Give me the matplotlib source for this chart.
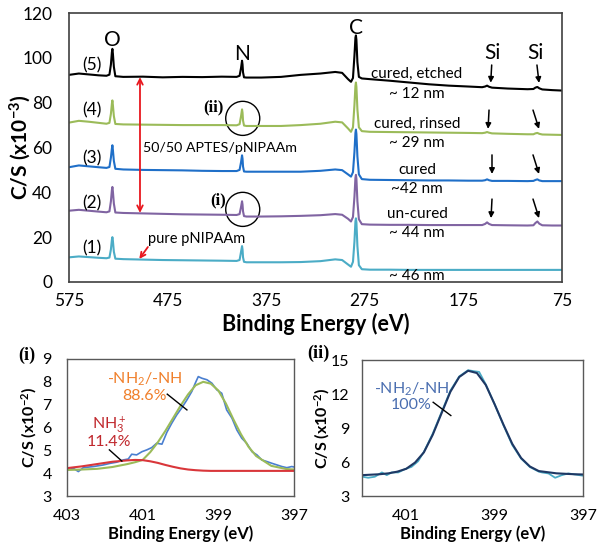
import matplotlib
matplotlib.use("Agg")
import matplotlib.pyplot as plt
from matplotlib.patches import Ellipse

plt.rcParams['font.family'] = ['Lato', 'DejaVu Sans']
plt.rcParams['mathtext.fontset'] = 'custom'
plt.rcParams['mathtext.rm'] = 'Lato'
plt.rcParams['mathtext.it'] = 'Lato:italic'
plt.rcParams['mathtext.bf'] = 'Lato:bold'

# ---- survey spectra (binding energy in eV, counts x1e-3) ----
energy = [575, 565, 555, 545, 537, 534, 532.5, 531.5, 531, 530.5, 529.5, 528,
          520, 500, 480, 460, 440, 420, 405, 402, 400.5, 399.5, 399, 398.5,
          397.5, 395, 380, 360, 340, 320, 305, 298, 292, 289, 287, 285.5,
          284.5, 284, 283.5, 282.5, 281, 278, 270, 250, 230, 210, 190, 170,
          156, 153, 151, 149, 146, 130, 110, 104, 102, 100, 98, 95, 85, 75]

s5_etched = [92.4, 93.0, 92.6, 92.2, 92.0, 92.5, 97.0, 102.5, 104.0, 102.0, 96.0, 91.8,
             91.5, 91.6, 91.3, 91.5, 91.4, 91.6, 91.5, 92.0, 95.5, 98.7, 97.0, 93.5,
             91.3, 91.2, 91.2, 91.5, 92.4, 93.0, 93.7, 93.3, 90.5, 89.3, 91.0, 101.0,
             109.0, 110.0, 108.0, 98.0, 91.5, 90.8, 90.5, 89.8, 89.0, 88.2, 87.6, 87.2,
             86.9, 87.2, 87.6, 87.1, 86.7, 86.3, 86.0, 86.1, 86.7, 87.0, 86.4, 85.9, 85.6, 85.4]

s4_rinsed = [71.1, 71.9, 71.5, 71.0, 70.6, 71.0, 75.0, 79.5, 81.0, 79.0, 74.0, 70.5,
             70.3, 70.2, 70.1, 70.0, 70.0, 70.0, 69.9, 70.4, 74.0, 77.0, 75.5, 72.0,
             69.8, 69.6, 69.6, 69.6, 70.0, 70.6, 71.5, 71.2, 68.5, 67.0, 69.0, 79.0,
             87.5, 89.0, 87.0, 77.0, 69.0, 67.3, 67.0, 66.9, 66.8, 66.7, 66.6, 66.5,
             66.4, 66.6, 66.9, 66.6, 66.3, 66.1, 65.9, 65.9, 66.3, 66.5, 66.1, 65.8, 65.7, 65.6]

s3_cured = [51.2, 52.0, 51.6, 51.2, 50.9, 51.3, 55.5, 59.5, 61.0, 59.0, 54.0, 50.5,
            50.2, 50.0, 49.9, 49.8, 49.6, 49.5, 49.5, 50.0, 53.5, 56.5, 55.0, 51.5,
            49.3, 49.2, 49.2, 49.2, 49.2, 49.6, 50.2, 49.9, 48.0, 47.0, 49.0, 58.0,
            66.5, 68.0, 66.0, 56.0, 48.0, 45.9, 45.6, 45.5, 45.4, 45.3, 45.3, 45.2,
            45.2, 45.4, 45.8, 45.4, 45.1, 45.1, 45.0, 45.1, 45.5, 45.8, 45.3, 45.0, 45.0, 45.0]

s2_uncured = [31.8, 32.2, 31.8, 31.4, 31.1, 31.5, 36.0, 41.0, 42.4, 40.5, 35.0, 31.0,
              30.8, 30.6, 30.4, 30.2, 30.1, 30.0, 29.9, 30.3, 33.5, 36.0, 34.5, 31.5,
              29.4, 29.2, 29.2, 29.3, 29.5, 29.8, 30.3, 30.0, 28.2, 27.0, 29.0, 38.0,
              46.5, 47.8, 46.0, 36.0, 28.0, 25.8, 25.6, 25.5, 25.5, 25.4, 25.4, 25.4,
              25.4, 25.9, 26.6, 25.9, 25.4, 25.3, 25.2, 25.3, 26.3, 27.0, 26.0, 25.3, 25.2, 25.2]

s1_pure = [11.0, 11.4, 11.1, 10.8, 10.6, 10.9, 14.5, 18.8, 20.0, 18.5, 13.5, 10.4,
           10.2, 10.0, 9.8, 9.7, 9.6, 9.5, 9.4, 9.8, 13.5, 16.0, 14.5, 11.0,
           9.0, 8.8, 8.8, 8.8, 8.9, 9.3, 10.1, 9.8, 7.8, 6.8, 9.0, 18.0,
           27.0, 28.4, 26.5, 16.0, 7.5, 5.7, 5.5, 5.5, 5.4, 5.4, 5.4, 5.4,
           5.4, 5.4, 5.4, 5.4, 5.4, 5.4, 5.4, 5.4, 5.4, 5.4, 5.4, 5.4, 5.4, 5.4]

spectra = [s1_pure, s2_uncured, s3_cured, s4_rinsed, s5_etched]
colors = ["#4bacc6", "#8064a2", "#1f6fc8", "#9bbb59", "#000000"]
numbers = ["(1)", "(2)", "(3)", "(4)", "(5)"]
number_y = [15.2, 35.2, 55.3, 76.7, 96.8]
sample_labels = ["", "un-cured", "cured", "cured, rinsed", "cured, etched"]
sample_label_y = [0, 30.3, 50.0, 70.5, 92.8]
thickness = ["~ 46 nm", "~ 44 nm", "~42 nm", "~ 29 nm", "~ 12 nm"]
thickness_y = [2.7, 21.8, 41.5, 62.0, 83.7]

# ---- N 1s high resolution (i) ----
e_i_data = [403.0, 402.83, 402.70, 402.57, 402.30, 402.04, 401.86, 401.69, 401.51, 401.38,
            401.29, 401.16, 401.02, 400.89, 400.76, 400.63, 400.49, 400.36, 400.23, 400.10,
            399.97, 399.83, 399.70, 399.61, 399.53, 399.44, 399.30, 399.17, 399.04, 398.91,
            398.78, 398.64, 398.51, 398.38, 398.25, 398.11, 397.98, 397.85, 397.72, 397.58,
            397.45, 397.32, 397.19, 397.06, 397.0]
i_data = [4.14, 4.21, 4.07, 4.24, 4.29, 4.36, 4.43, 4.48, 4.58, 4.62,
          4.83, 4.80, 4.94, 5.02, 5.12, 5.31, 5.27, 5.79, 6.19, 6.55,
          6.85, 7.21, 7.58, 7.94, 8.23, 8.16, 8.09, 7.94, 7.65, 7.50,
          6.77, 6.41, 5.89, 5.53, 5.31, 4.94, 4.80, 4.58, 4.51, 4.43,
          4.36, 4.29, 4.24, 4.29, 4.27]
e_i_fit = [403.0, 402.6, 402.2, 401.8, 401.4, 401.2, 401.0, 400.8, 400.6, 400.4, 400.2,
           400.0, 399.8, 399.6, 399.4, 399.2, 399.0, 398.8, 398.6, 398.4, 398.2,
           398.0, 397.6, 397.2, 397.0]
i_nh2 = [4.14, 4.16, 4.19, 4.27, 4.40, 4.48, 4.58, 4.92, 5.35, 5.85, 6.40,
         6.95, 7.45, 7.85, 8.00, 7.92, 7.62, 7.05, 6.35, 5.70, 5.15,
         4.75, 4.32, 4.18, 4.16]
i_nh3 = [4.22, 4.30, 4.40, 4.50, 4.56, 4.58, 4.57, 4.52, 4.45, 4.36, 4.28,
         4.21, 4.16, 4.13, 4.11, 4.10, 4.10, 4.10, 4.10, 4.10, 4.10,
         4.10, 4.10, 4.10, 4.10]

# ---- N 1s high resolution (ii) ----
e_ii_data = [401.99, 401.86, 401.71, 401.55, 401.44, 401.33, 401.18, 401.03, 400.88, 400.73,
             400.6, 400.4, 400.2, 400.0, 399.8, 399.6, 399.45, 399.35, 399.2, 399.0,
             398.8, 398.6, 398.4, 398.2, 398.0, 397.93, 397.78, 397.63, 397.48, 397.33,
             397.18, 397.0]
ii_data = [4.70, 4.61, 4.70, 5.08, 4.84, 5.08, 5.08, 5.37, 5.57, 6.07,
           6.90, 8.50, 10.40, 12.30, 13.55, 14.10, 14.00, 13.95, 12.85, 11.10,
           9.25, 7.50, 6.30, 5.55, 5.15, 5.08, 4.99, 4.61, 4.84, 4.99,
           4.90, 4.79]
e_ii_fit = [402.0, 401.6, 401.4, 401.2, 401.0, 400.8, 400.6, 400.4, 400.2, 400.0,
            399.8, 399.6, 399.4, 399.2, 399.0, 398.8, 398.6, 398.4, 398.2, 398.0,
            397.6, 397.2, 397.0]
ii_fit = [4.84, 4.92, 5.00, 5.15, 5.40, 5.95, 6.85, 8.40, 10.30, 12.20,
          13.50, 14.05, 13.85, 12.80, 11.10, 9.30, 7.60, 6.35, 5.60, 5.20,
          5.00, 4.92, 4.90]

fig = plt.figure(figsize=(6.02, 5.48), dpi=100)

# ============ survey ============
ax = fig.add_axes([69/602, 1-282/548, 493/602, 269/548])
for vals, c in zip(spectra, colors):
    ax.plot(energy, vals, color=c, lw=1.5)
ax.set_xlim(575, 75)
ax.set_ylim(0, 120)
ax.set_xticks([575, 475, 375, 275, 175, 75])
ax.set_yticks(range(0, 121, 20))
ax.tick_params(axis="x", length=0, labelsize=12.5, pad=8)
ax.tick_params(axis="y", length=0, labelsize=12.5, pad=12)
for s in ax.spines.values():
    s.set_color("#404040")
    s.set_linewidth(1.2)
ax.set_xlabel("Binding Energy (eV)", fontsize=15.5, fontweight="bold", labelpad=3)
ax.set_ylabel(r"C/S (x10$^{\mathbf{-3}}$)", fontsize=15, fontweight="bold")
ax.yaxis.set_label_coords(-0.074, 0.5)

for n, ny in zip(numbers, number_y):
    ax.text(552, ny, n, fontsize=12.5, ha="center", va="center")
for lab, ly in zip(sample_labels, sample_label_y):
    if lab:
        ax.text(222, ly, lab, fontsize=11, ha="center", va="center")
for lab, ly in zip(thickness, thickness_y):
    ax.text(222, ly, lab, fontsize=11, ha="center", va="center")

ax.text(531, 108, "O", fontsize=15, ha="center", va="center")
ax.text(399, 101.5, "N", fontsize=15, ha="center", va="center")
ax.text(284, 113.5, "C", fontsize=15, ha="center", va="center")
ax.text(146, 102, "Si", fontsize=15, ha="center", va="center")
ax.text(102, 102, "Si", fontsize=15, ha="center", va="center")

# Si arrows
si_arrows = [((146.3, 96.8), (147.3, 88.9)), ((100.4, 96.8), (98.3, 88.8)),
             ((149.0, 76.7), (150.0, 68.3)), ((104.4, 76.7), (98.3, 68.3)),
             ((146.0, 56.7), (146.0, 48.2)), ((104.4, 56.7), (98.3, 48.2)),
             ((146.0, 37.0), (147.0, 28.5)), ((104.4, 37.0), (98.3, 28.5))]
for start, end in si_arrows:
    ax.annotate("", xy=end, xytext=start,
                arrowprops=dict(arrowstyle="-|>", color="k", lw=1.1,
                                mutation_scale=8, shrinkA=0, shrinkB=0))

# red double arrow and labels
ax.annotate("", xy=(503, 91.4), xytext=(503, 30.8),
            arrowprops=dict(arrowstyle="<->", color="#e8171e", lw=1.3,
                            mutation_scale=10, shrinkA=0, shrinkB=0))
ax.text(500, 59.8, "50/50 APTES/pNIPAAm", fontsize=10.3, ha="left", va="center")
ax.text(495, 19.2, "pure pNIPAAm", fontsize=10.5, ha="left", va="center")
ax.annotate("", xy=(503.7, 10.3), xytext=(495, 15.6),
            arrowprops=dict(arrowstyle="->", color="#e8171e", lw=1.3,
                            mutation_scale=9, shrinkA=0, shrinkB=0))

ax.text(429, 78, "(ii)", fontsize=12, fontweight="bold",
        family="Liberation Serif", ha="center", va="center")
ax.text(424, 36.6, "(i)", fontsize=12, fontweight="bold",
        family="Liberation Serif", ha="center", va="center")
ax.add_patch(Ellipse((398.8, 73.0), 34.5, 15.2, fill=False, ec="k", lw=1.0))
ax.add_patch(Ellipse((398.8, 32.4), 34.5, 15.2, fill=False, ec="k", lw=1.0))

# ============ panel (i) ============
ax1 = fig.add_axes([67/602, 52/548, 227/602, 137/548])
ax1.plot(e_i_data, i_data, color="#4a7fd0", lw=1.2)
ax1.plot(e_i_fit, i_nh2, color="#9bbb59", lw=1.5)
ax1.plot(e_i_fit, i_nh3, color="#d9363a", lw=1.5)
ax1.set_xlim(403, 397)
ax1.set_ylim(3, 9)
ax1.set_xticks([403, 401, 399, 397])
ax1.set_yticks(range(3, 10))
ax1.tick_params(axis="x", length=0, labelsize=11.5, pad=9)
ax1.tick_params(axis="y", length=0, labelsize=11.5, pad=11)
for s in ax1.spines.values():
    s.set_color("#595959")
    s.set_linewidth(1.0)
ax1.set_xlabel("Binding Energy (eV)", fontsize=12, fontweight="bold", labelpad=2)
ax1.set_ylabel(r"C/S (x10$^{\mathbf{-2}}$)", fontsize=11.5, fontweight="bold")
ax1.yaxis.set_label_coords(-0.125, 0.5)
ax1.text(400.94, 8.13, r"-NH$_2$/-NH", color="#f07f2a", fontsize=11.5, ha="center", va="center")
ax1.text(400.94, 7.36, "88.6%", color="#f07f2a", fontsize=11.5, ha="center", va="center")
ax1.plot([400.35, 399.83], [7.46, 6.77], color="k", lw=1.0)
ax1.text(401.9, 6.1, r"NH$_3^+$", color="#c0282d", fontsize=11.5, ha="center", va="center")
ax1.text(401.9, 5.35, "11.4%", color="#c0282d", fontsize=11.5, ha="center", va="center")
ax1.plot([401.88, 401.55], [5.02, 4.53], color="k", lw=1.0)
fig.text(27/602, 1-355/548, "(i)", fontsize=13, fontweight="bold",
         family="Liberation Serif", ha="center", va="center")

# ============ panel (ii) ============
ax2 = fig.add_axes([362/602, 52/548, 221/602, 136/548])
ax2.plot(e_ii_data, ii_data, color="#4bacc6", lw=1.3)
ax2.plot(e_ii_fit, ii_fit, color="#1f3864", lw=1.5)
ax2.set_xlim(402, 397)
ax2.set_ylim(3, 15)
ax2.set_xticks([401, 399, 397])
ax2.set_yticks([3, 6, 9, 12, 15])
ax2.tick_params(axis="x", length=0, labelsize=11.5, pad=9)
ax2.tick_params(axis="y", length=0, labelsize=11.5, pad=9)
for s in ax2.spines.values():
    s.set_color("#595959")
    s.set_linewidth(1.0)
ax2.set_xlabel("Binding Energy (eV)", fontsize=12, fontweight="bold", labelpad=2)
ax2.set_ylabel(r"C/S (x10$^{\mathbf{-2}}$)", fontsize=11.5, fontweight="bold")
ax2.yaxis.set_label_coords(-0.135, 0.5)
ax2.text(400.88, 12.45, r"-NH$_2$/-NH", color="#4a6eb0", fontsize=11.5, ha="center", va="center")
ax2.text(400.88, 11.0, "100%", color="#4a6eb0", fontsize=11.5, ha="center", va="center")
ax2.plot([400.39, 399.99], [11.27, 10.1], color="k", lw=1.0)
fig.text(318/602, 1-353/548, "(ii)", fontsize=13, fontweight="bold",
         family="Liberation Serif", ha="center", va="center")

fig.savefig("out.png", dpi=100)
